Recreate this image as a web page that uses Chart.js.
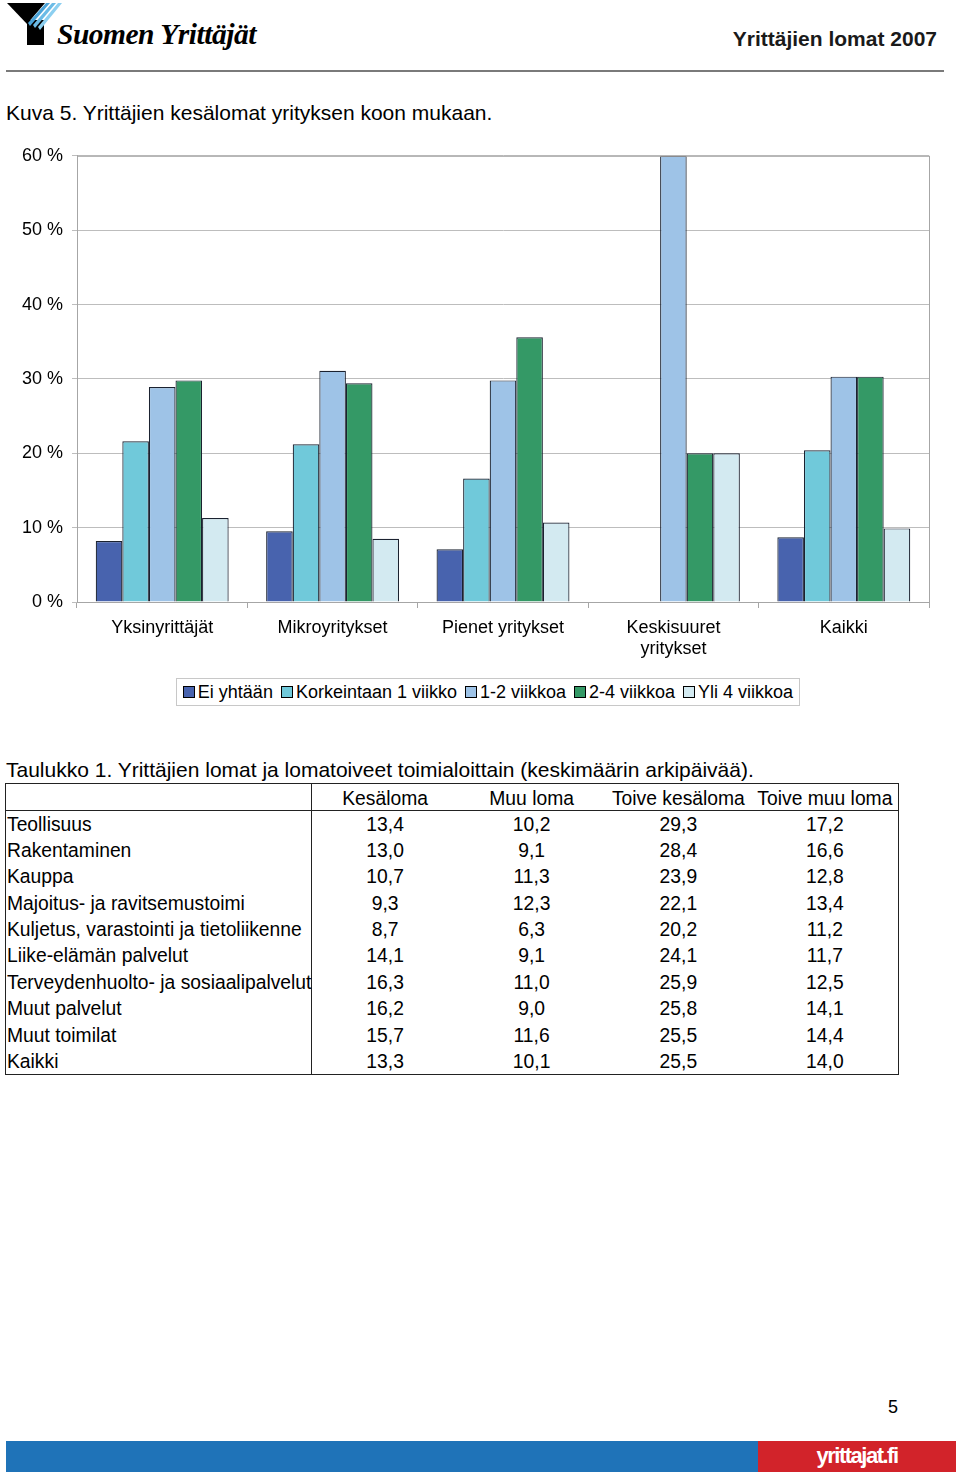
<!DOCTYPE html>
<html>
<head>
<meta charset="utf-8">
<script src="https://cdn.jsdelivr.net/npm/chart.js@4.4.1/dist/chart.umd.min.js"></script>
<style>
    body { margin: 0; width: 960px; height: 1472px; position: relative; background: #fff;
           font-family: "Liberation Sans", Arial, sans-serif; color: #000; overflow: hidden; }
    .abs { position: absolute; }
    #brand { left: 57px; top: 18px; font-family: "Liberation Serif", serif; font-weight: bold;
             font-style: italic; font-size: 29.5px; letter-spacing: -0.5px; }
    #doc-title { right: 23px; top: 27px; font-size: 21px; font-weight: bold; color: #1a1a1a; }
    #rule { left: 6px; top: 70px; width: 938px; height: 2px; background: #7a7a7a; }
    .caption { left: 6px; font-size: 21px; }
    #chart-wrap { left: 0; top: 136px; width: 940px; height: 534px; }
    #legend { left: 176px; top: 678px; width: 622px; height: 26px; border: 1px solid #c8c8c8;
              display: flex; align-items: center; justify-content: center; font-size: 18px; white-space: nowrap; }
    #legend span.box { display: inline-block; width: 10px; height: 10px; border: 1px solid #000;
                       margin: 0 3px 0 8px; vertical-align: 0px; }
    #legend span.item:first-child span.box { margin-left: 0; }
    #tbl { left: 5px; top: 783px; border-collapse: collapse; border: 1px solid #222; font-size: 19.3px;
           table-layout: fixed; width: 894px; }
    #tbl tr { height: 26.4px; }
    #tbl tr.head { height: 26px; }
    #tbl td, #tbl th { padding: 3px 0 0 0; line-height: 22px; vertical-align: top; font-weight: normal; }
    #tbl th { padding-top: 4px; border-bottom: 1px solid #222; }
    #tbl td.name { text-align: left; padding-left: 1px; border-right: 1px solid #222; white-space: nowrap; }
    #tbl th.first { width: 305px; border-right: 1px solid #222; }
    #tbl td.num, #tbl th.col { text-align: center; }
    #pageno { left: 888px; top: 1397px; font-size: 18px; }
    #foot-blue { left: 6px; top: 1441px; width: 752px; height: 31px; background: #1f73b8; }
    #foot-red { left: 758px; top: 1441px; width: 198px; height: 31px; background: #d2232a; color: #fff;
                font-weight: bold; font-size: 22px; letter-spacing: -1.5px; text-align: center; line-height: 30px;
                font-family: "Liberation Sans Narrow", "Liberation Sans", sans-serif; }
</style>
</head>
<body>
<svg class="abs" style="left:0;top:0" width="70" height="50">
    <polygon points="7,3 45,3 27,24" fill="#000"/>
    <rect x="27" y="20" width="17" height="25" fill="#000"/>
    <polygon points="46,3 50,3 30,26 28,23" fill="#4aa3d8"/>
    <polygon points="52,3 56,3 35,28 33,25" fill="#6bbbe6"/>
    <polygon points="58,3 62,3 40,30 38,27" fill="#8ccff0"/>
</svg>
<div id="brand" class="abs">Suomen Yrittäjät</div>
<div id="doc-title" class="abs">Yrittäjien lomat 2007</div>
<div id="rule" class="abs"></div>
<div class="abs caption" style="top:101px">Kuva 5. Yrittäjien kesälomat yrityksen koon mukaan.</div>

<div id="chart-wrap" class="abs"><canvas id="chart"></canvas></div>
<div id="legend" class="abs"></div>

<div class="abs caption" style="top:758px">Taulukko 1. Yrittäjien lomat ja lomatoiveet toimialoittain (keskimäärin arkipäivää).</div>
<table id="tbl" class="abs"></table>

<div id="pageno" class="abs">5</div>
<div id="foot-blue" class="abs"></div>
<div id="foot-red" class="abs">yrittajat.fi</div>

<script>
// Kuva 5 data (percent of respondents)
const sizeClasses = ['Yksinyrittäjät', 'Mikroyritykset', 'Pienet yritykset', ['Keskisuuret', 'yritykset'], 'Kaikki'];
const seriesNames = ['Ei yhtään', 'Korkeintaan 1 viikko', '1-2 viikkoa', '2-4 viikkoa', 'Yli 4 viikkoa'];
const eiYhtaan   = [8.2, 9.5, 7.1, 0, 8.7];
const korkeintaan1 = [21.6, 21.2, 16.6, 0, 20.4];
const viikkoa1_2 = [28.9, 31.1, 29.8, 60.0, 30.3];
const viikkoa2_4 = [29.8, 29.4, 35.6, 20.0, 30.3];
const yli4       = [11.3, 8.5, 10.7, 20.0, 9.9];
const yTicks = [0, 10, 20, 30, 40, 50, 60];

// Taulukko 1 data
const tableHeaders = ['Kesäloma', 'Muu loma', 'Toive kesäloma', 'Toive muu loma'];
const industries = ['Teollisuus', 'Rakentaminen', 'Kauppa', 'Majoitus- ja ravitsemustoimi',
    'Kuljetus, varastointi ja tietoliikenne', 'Liike-elämän palvelut', 'Terveydenhuolto- ja sosiaalipalvelut',
    'Muut palvelut', 'Muut toimilat', 'Kaikki'];
const kesaloma     = [13.4, 13.0, 10.7, 9.3, 8.7, 14.1, 16.3, 16.2, 15.7, 13.3];
const muuLoma      = [10.2, 9.1, 11.3, 12.3, 6.3, 9.1, 11.0, 9.0, 11.6, 10.1];
const toiveKesa    = [29.3, 28.4, 23.9, 22.1, 20.2, 24.1, 25.9, 25.8, 25.5, 25.5];
const toiveMuu     = [17.2, 16.6, 12.8, 13.4, 11.2, 11.7, 12.5, 14.1, 14.4, 14.0];

const colors = ['#4863ae', '#70c9da', '#9ec3e7', '#349966', '#d3eaf1'];

const series = [eiYhtaan, korkeintaan1, viikkoa1_2, viikkoa2_4, yli4];

// border round the plot area
const frame = {
    id: 'frame',
    afterDraw(chart) {
        const a = chart.chartArea, c = chart.ctx;
        c.save();
        c.strokeStyle = '#a6a6a6';
        c.lineWidth = 1;
        c.strokeRect(a.left + 0.5, a.top + 0.5, a.right - a.left, a.bottom - a.top);
        c.restore();
    }
};

new Chart(document.getElementById('chart'), {
    type: 'bar',
    data: {
        labels: sizeClasses,
        datasets: series.map((vals, i) => ({
            label: seriesNames[i],
            data: vals,
            backgroundColor: colors[i],
            borderColor: '#1b2230',
            borderWidth: vals.map(v => v > 0 ? 1.2 : 0),
            categoryPercentage: 0.78,
            barPercentage: 1.0
        }))
    },
    options: {
        responsive: true,
        maintainAspectRatio: false,
        animation: false,
        layout: { padding: { top: 1, right: 11, bottom: 0, left: 0 } },
        plugins: { legend: { display: false }, tooltip: { enabled: false } },
        scales: {
            x: {
                grid: { drawOnChartArea: false, drawTicks: true, tickLength: 6, color: '#a6a6a6', offset: true },
                border: { color: '#a6a6a6' },
                ticks: { color: '#000', font: { family: 'Liberation Sans', size: 18 }, padding: 9, maxRotation: 0 },
                afterFit(scale) { scale.height = 68; }
            },
            y: {
                min: 0, max: 60,
                afterBuildTicks(scale) { scale.ticks = yTicks.map(v => ({ value: v })); },
                grid: { color: '#bdbdbd', tickLength: 5 },
                border: { color: '#a6a6a6' },
                ticks: { color: '#000', font: { family: 'Liberation Sans', size: 18 }, padding: 9,
                         callback: v => v + ' %' },
                afterFit(scale) { scale.width = 77; }
            }
        }
    },
    plugins: [frame]
});

// legend
const legend = document.getElementById('legend');
seriesNames.forEach((name, i) => {
    const item = document.createElement('span');
    item.className = 'item';
    item.innerHTML = '<span class="box" style="background:' + colors[i] + '"></span>' + name;
    legend.appendChild(item);
});

// table
const fmt = v => v.toFixed(1).replace('.', ',');
const tbl = document.getElementById('tbl');
let html = '<tr class="head"><th class="first"></th>' + tableHeaders.map(h => '<th class="col">' + h + '</th>').join('') + '</tr>';
industries.forEach((name, i) => {
    html += '<tr><td class="name">' + name + '</td>' +
        [kesaloma[i], muuLoma[i], toiveKesa[i], toiveMuu[i]].map(v => '<td class="num">' + fmt(v) + '</td>').join('') +
        '</tr>';
});
tbl.innerHTML = html;
</script>
</body>
</html>
